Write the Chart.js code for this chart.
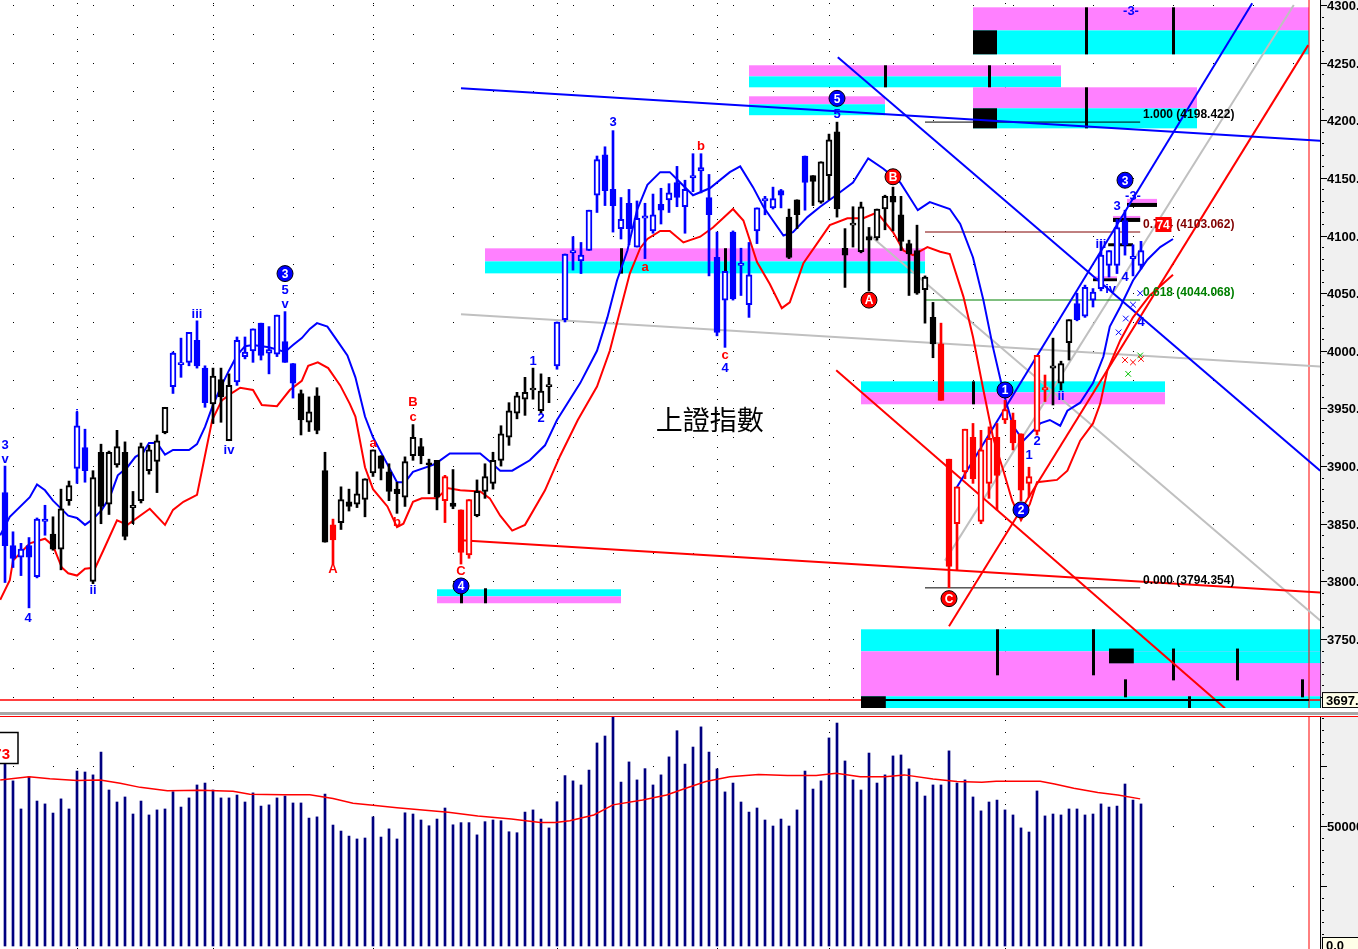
<!DOCTYPE html>
<html lang="zh-Hant">
<head>
<meta charset="UTF-8">
<title>上證指數</title>
<style>
  html, body { margin: 0; padding: 0; background: #fff; }
  body { position: relative; width: 1358px; height: 949px; overflow: hidden; }
  canvas { position: absolute; left: 0; }
  #priceChart { top: 0; }
  #volChart { top: 717px; }
  .sep { position: absolute; left: 0; width: 1358px; }
</style>
</head>
<body>
<canvas id="priceChart" width="1358" height="708"></canvas>
<div class="sep" style="top:712px;height:3px;background:#a8a8a8"></div>
<div class="sep" style="top:716px;height:1px;background:#ff0000"></div>
<canvas id="volChart" width="1358" height="232"></canvas>
<script src="https://cdn.jsdelivr.net/npm/chart.js@4.4.1/dist/chart.umd.min.js"></script>
<script>
// daily bars, index 0 = first bar on the left
const openP = [3877,3831,3821,3831,3804,3852,3841,3828,3870,3898, 3916,3800,3912,3867,3901,3912,3864,3870,3896,3904,
  3929,3969,3988,3990,4009,3985,3954,3975,3922,3973, 3995,4000,4024,3998,3997,4008,3989,3963,3938,3961,
  3896,3849,3851,3869,3867,3871,3894,3909,3895,3880, 3873,3909,3917,3902,3905,3870,3868,3862,3823,3857,
  3878,3885,3905,3925,3946,3958,3966,3948,3969,3987, 4027,4085,4078,4087,4135,4170,4140,4106,4128,4090,
  4115,4104,4127,4131,4146,4125,4150,4156,4133,4081, 4044,4103,4074,4040,4104,4130,4124,4139,4116,4131,
  4169,4152,4129,4152,4190,4089,4109,4086,4099,4098, 4123,4134,4118,4093,4087,4053,4029,4006,3906,3850,
  3895,3925,3852,3885,3925,3940,3940,3928,3885,3930, 3966,3985,3972,4007,4041,4030,4044,4054,4074,4074,
  4113,4080,4074];
const highP = [3900,3843,3833,3838,3855,3866,3856,3880,3887,3947, 3932,3896,3919,3913,3931,3921,3878,3920,3918,3927,
  3951,3999,4011,4016,4026,3987,3985,3985,3980,4012, 4012,4019,4024,4021,4031,4034,3989,3966,3960,3968,
  3912,3854,3882,3880,3895,3889,3914,3909,3902,3886, 3908,3936,3924,3906,3905,3892,3897,3862,3871,3888,
  3902,3912,3935,3955,3964,3977,3985,3980,3977,4025, 4084,4099,4094,4122,4169,4177,4191,4133,4140,4130,
  4128,4136,4141,4145,4160,4148,4171,4171,4153,4103, 4069,4104,4089,4094,4124,4134,4142,4140,4123,4131,
  4169,4152,4164,4188,4198.4,4106,4125,4129,4107,4123, 4135,4142,4134,4096,4109,4065,4042,4024,3906,3882,
  3932,3937,3931,3934,3937,3957,3946,3928,3899,3996, 3979,4011,3991,4027,4050,4057,4054,4095,4087,4114,
  4122,4092,4095];
const lowP = [3799,3812,3805,3777,3803,3840,3827,3810,3866,3885, 3886,3798,3850,3858,3899,3836,3850,3868,3893,3877,
  3928,3963,3977,3987,3985,3951,3937,3938,3922,3970, 3993,3990,3992,3980,3995,3990,3959,3927,3930,3928,
  3834,3815,3845,3861,3864,3856,3891,3888,3870,3859, 3865,3905,3902,3876,3862,3851,3863,3815,3820,3856,
  3872,3880,3900,3918,3941,3944,3958,3946,3955,3984, 4025,4070,4067,4087,4120,4126,4103,4097,4092,4090,
  4080,4102,4110,4120,4125,4102,4138,4137,4065,4013, 4003,4044,4048,4029,4093,4118,4123,4124,4080,4106,
  4122,4126,4128,4131,4116,4055,4090,4085,4052,4096, 4105,4104,4087,4048,4049,4024,3994,3957,3794.4,3810,
  3889,3885,3850,3872,3862,3937,3914,3870,3873,3927, 3956,3953,3966,3992,4026,4029,4038,4052,4064,4067,
  4083,4065,4071];
const closeP = [3831,3820,3828,3821,3854,3854,3828,3863,3883,3935, 3896,3890,3865,3912,3917,3839,3866,3917,3914,3922,
  3951,3998,3989,4016,3987,3955,3978,3960,3970,4009, 3999,4019,3996,4001,4031,3990,3972,3940,3947,3931,
  3834,3836,3871,3865,3876,3889,3914,3898,3878,3876, 3904,3925,3909,3901,3873,3891,3865,3825,3871,3878,
  3891,3905,3928,3948,3961,3964,3967,3965,3970,4025, 4084,4087,4083,4122,4166,4139,4126,4114,4106,4115,
  4117,4118,4122,4137,4133,4140,4152,4159,4118,4016, 4069,4045,4076,4066,4124,4132,4132,4135,4081,4118,
  4146,4147,4164,4183,4123,4083,4110,4125,4096,4123, 4134,4129,4095,4084,4050,4064,4006,3957,3813,3882,
  3932,3889,3914,3924,3892,3949,3920,3879,3891,3996, 3968,3987,3989,4027,4027,4055,4051,4083,4087,4107,
  4092,4082,4087];
// b = blue, k = black, r = red bar colouring
const candleTone = ('bbbbbbkkkb' + 'bkkkkkkkkk' + 'kbbbbbkkkb' + 'bbbbbbbkkk' + 'krkkkkkkkk' +
  'kkkkkrkrrk' + 'kkkkkkkkkb' + 'bbbbbbbbbb' + 'bbbbbbbbbb' + 'bbbbbbbbkk' + 'bkkkkkkkkk' +
  'kkkkkkkrrr' + 'rrrrrrrrrr' + 'rkkkbbbbbb' + 'bbb').split('');
const volume = [76100,68800,57100,70500,60400,59200,55400,61300,57100,72900, 72500,71300,80800,65000,60000,62100,55000,60400,54600,56700,
  57100,64300,57900,61700,67100,67900,65000,61700,61700,62900, 60000,63800,58300,58800,61700,62500,59600,59600,53300,53800,
  63300,50400,47900,45800,44600,45000,53800,45400,48800,44600, 55500,55000,52500,50100,52900,57500,50500,51400,51400,46300,
  51800,52500,52200,47600,47200,55800,56700,52900,49200,60100, 71000,68800,67100,73300,84600,87500,95500,68300,76700,69200,
  73900,67100,71300,78800,89700,75800,82900,91300,80800,73800, 64200,67900,60000,55800,57500,52500,50000,52900,50000,56700,
  72900,65400,68800,86700,92900,77100,69200,65000,80400,67900, 71300,79200,79600,73800,68300,62500,67100,67100,81300,67900,
  69200,62100,56300,60000,60800,56700,54600,49200,47500,64600, 54200,55000,54600,57100,57100,54600,55000,59200,57900,58300,
  67500,60800,59200];

// envelope lines [bar, price]
const upperBand = [[-0.6,3840],[0.6,3856],[3.1,3873],[4,3884],[5,3879],[6,3870],[7.9,3857],[9,3855],[10,3849],[11,3854],
  [12.1,3862],[13.1,3873],[14.1,3892],[15.3,3899],[16.3,3908],[17.3,3912],[18,3920],[19,3920],[20,3910],[21,3914],[23,3914],
  [24,3919],[25,3934],[26,3953],[27,3969],[28,3983],[29,3996],[30,4004],[31,4005],[33,4003],[35,3999],[36,4005],[37.1,4011],
  [38.1,4019],[39,4024],[40.3,4021],[41.5,4009],[42.8,3996],[43.8,3977],[45,3943],[46,3925],[47.3,3908],[49,3886],[50,3886],
  [51,3895],[53.5,3901],[54.4,3905],[55.6,3911],[59.4,3911],[60.6,3904],[61.9,3896],[63.4,3896],[65.6,3905],[67.5,3918],
  [69,3940],[71.9,3972],[74,4000],[75.3,4029],[76.5,4061],[77.8,4087],[79,4122],[80.3,4144],[81.9,4155],[83.1,4155],
  [84.4,4146],[86,4135],[88.1,4141],[90.6,4155],[91.9,4160],[93.5,4142],[94.8,4125],[97.3,4100],[98.5,4103],[100.3,4116],
  [101.9,4125],[103.5,4133],[106,4146],[107.9,4167],[109.8,4158],[111.9,4146],[114.1,4122],[115.6,4129],[118.1,4123],
  [119.4,4110],[121,4081],[122.3,4044],[123.5,4003],[124.8,3964],[126,3935],[127.3,3922],[129.4,3937],[130.6,3940],
  [131.9,3935],[132.8,3948],[134.4,3955],[136,3972],[137.3,3995],[138.1,4021],[139.4,4038],[141,4061],[142.8,4079],
  [144.4,4090],[146,4097]];
const lowerBand = [[-0.6,3784],[0.6,3801],[1,3818],[3.1,3833],[5,3837],[6,3831],[7.1,3812],[7.9,3807],[9,3805],[10,3811],
  [11.3,3812],[12.3,3827],[14,3853],[15.3,3849],[18.1,3863],[20,3849],[21,3862],[22.3,3869],[24,3875],[25.9,3940],[27.1,3957],
  [28.5,3964],[29.4,3968],[31,3966],[32.1,3953],[34,3952],[35.6,3966],[37.1,3974],[37.9,3987],[39.1,3990],[40.4,3985],
  [41.9,3970],[43.1,3954],[43.8,3943],[45,3899],[46,3880],[47.8,3865],[49,3847],[49.8,3850],[51,3869],[52.1,3872],[54,3872],
  [55.3,3881],[56.9,3879],[59.4,3878],[60.6,3872],[61.9,3857],[63.4,3844],[65,3849],[67.5,3879],[69.4,3909],[71.6,3940],
  [74,3969],[75.6,4000],[76.9,4035],[78.1,4067],[79.4,4089],[80.3,4097],[81.9,4104],[83.1,4104],[84.8,4094],[86.9,4099],
  [88.5,4107],[91,4123],[92.3,4113],[94,4077],[95.6,4058],[97.1,4037],[98.1,4042],[99.8,4076],[101.5,4093],[103.1,4109],
  [105.3,4115],[107.3,4115],[109,4120],[111,4103],[112.3,4087],[113.5,4083],[115.3,4090],[116.9,4086],[118.1,4084],
  [119.8,4047],[121,4012],[122.3,3966],[123.5,3925],[124.8,3896],[125.9,3870],[127,3853],[128.1,3867],[129,3886],
  [131.5,3888],[132.8,3896],[134.4,3922],[136,3937],[136.9,3954],[137.8,3983],[139.4,4009],[141,4029],[143.1,4048],[146,4066]];
const volumeAvg = [[-0.6,69200],[3,70500],[5.6,69700],[9,69000],[11.9,69200],[14.4,67800],[16.9,66100],[20.3,64700],
  [24.4,64900],[28.5,64500],[30.6,63200],[34.8,63000],[38.1,63000],[41,61500],[43.5,59500],[46,58600],[49,57600],
  [55.4,55700],[59.1,54200],[63.3,52900],[66.9,51500],[68.8,51500],[70.6,52200],[73.6,54600],[76,58800],[79.7,60800],
  [82.7,62900],[85.1,65700],[87.6,68500],[90.6,70500],[94.2,71500],[97.8,71000],[101.4,71000],[103.9,72000],[106.9,70500],
  [110,70500],[112.4,71300],[116,69600],[119,68500],[122.1,68200],[123.9,68600],[129.4,68600],[131.2,67500],[133.6,65700],
  [136.6,64000],[139.1,62900],[141.9,61300]];

// trend lines, two end points each
const blueLines = [[[57,4227.7],[164.4,4182.3]], [[104.1,4254.6],[164.4,3896]], [[118.75,3879],[155.9,4301.5]]];
const redLines = [[[57,3835.6],[164.4,3790.3]], [[103.9,3983.1],[152.5,3689.9]], [[118,3761],[162.9,4265.2]]];
const grayLines = [[[57,4031.7],[164.4,3986.4]], [[108.1,4100.2],[164.4,3766]], [[117.5,3818],[161.1,4300]]];
const fibLevels = [4198.422, 4103.062, 4044.068, 3794.354];
const fibNames = ['1.000 (4198.422)', '0.764 (4103.062)', '0.618 (4044.068)', '0.000 (3794.354)'];
const monthStarts = [9, 26, 46, 69, 89, 103, 125];
const priceLabels = [3750, 3800, 3850, 3900, 3950, 4000, 4050, 4100, 4150, 4200, 4250, 4300];
const volumeLabels = [50000];
const lastPrice = 3697;

// wave count marks: bar, price, text, colour, circled
const waveLabels = [
  [0,3918,'3','b'],[0,3906,'v','b'],[2.9,3768,'4','b'],[9,3945,'i','b'],[11,3792,'ii','b'],[24,4032,'iii','b'],
  [28,3914,'iv','b'],[35,4067,'3','b',1],[35,4052,'5','b'],[35,4040,'v','b'],[66,3991,'1','b'],[67,3941,'2','b'],
  [76,4198,'3','b'],[90,3996,'c','r'],[90,3985,'4','b'],[104,4219,'5','b',1],[104,4205,'5','b'],
  [125,3966,'1','b',1],[127,3862,'2','b',1],[128,3909,'1','b'],[129,3921,'2','b'],[132,3960,'ii','b'],
  [137,4092,'iii','b'],[138.2,4053,'iv','b'],[140,4064,'4','b'],[142,4025,'4','b'],[140,4148,'3','b',1],
  [139,4125,'3','b'],[141,4134,'-3-','b'],[140.75,4294,'-3-','b'],
  [41,3810,'A','r'],[46,3920,'a','r'],[49,3851,'b','r'],[51,3955,'B','r'],[51,3942,'c','r'],[57,3809,'C','r'],
  [57,3796,'4','b',1],[80,4072,'a','r'],[87,4177,'b','r'],[108,4044,'A','r',1],[111,4151,'B','r',1],[118,3785,'C','r',1]
];

const tone = { b: '#0000ff', k: '#000000', r: '#ff0000' };
const MAG = '#ff80ff', CYAN = '#00ffff';
// support / resistance zones: from bar, to bar, bands [top, bottom, colour], optional black start box
const zones = [
  { from: 54, to: 77, bands: [[3793.1,3787,CYAN],[3787,3781,MAG]] },
  { from: 60, to: 115, bands: [[4088.9,4077.6,MAG],[4077.6,4067.2,CYAN]] },
  { from: 93, to: 132, bands: [[4247.7,4238.1,MAG],[4238.1,4228.6,CYAN]] },
  { from: 93, to: 110, bands: [[4220.8,4213.9,MAG],[4213.9,4204.4,CYAN]] },
  { from: 121, to: 163, bands: [[4298,4278,MAG],[4278,4257.2,CYAN]], box: [121,124,4278,4257.2] },
  { from: 121, to: 149, bands: [[4228.6,4210.4,MAG],[4210.4,4193,CYAN]], box: [121,124,4210.4,4193] },
  { from: 107, to: 145, bands: [[3973.5,3964,CYAN],[3964,3953.6,MAG]] },
  { from: 107, to: 164.4, bands: [[3758.4,3739.3,CYAN],[3739.3,3700.3,MAG]] },
  { from: 138, to: 164.4, bands: [[3739.3,3728.9,CYAN],[3728.9,3700.3,MAG]], box: [138,141.1,3741.7,3728.9] },
  { from: 107, to: 164.4, bands: [[3700.3,3689.9,CYAN]], box: [107,110.1,3700.3,3689.9] },
  { from: 137.9, to: 141, bands: [[4093.3,4090.7,'#000']] },
  { from: 136, to: 139, bands: [[4064.6,4062.9,MAG],[4062.9,4060.4,'#000']] },
  { from: 138.5, to: 141.9, bands: [[4117,4115.3,MAG],[4115.3,4111.8,'#000']] },
  { from: 140.25, to: 144, bands: [[4131.8,4128.3,MAG],[4128.3,4124.8,'#000']] }
];
const zoneTicks = [[57,3794,3781],[60,3794,3781],[77,4089,4067],[90,4089,4067],[110,4247.7,4228.6],[123,4247.7,4228.6],
  [135.1,4298,4257.2],[146,4298,4257.2],[135.1,4228.6,4193],[121,3973.5,3953.6],[124,3758.4,3718.5],[136,3758.4,3718.5],
  [140,3715,3699.4],[146,3741.7,3714.1],[154,3741.7,3714.1],[162.1,3715,3699.4],[148,3700.3,3688]];

const days = openP.map((_, i) => i);
const candleCol = days.map(i => tone[candleTone[i]]);
const pts = arr => arr.map(([x, y]) => ({ x, y }));
const seg = (pairs, color, width, order) => ({ type: 'line', data: pts(pairs), borderColor: color, borderWidth: width,
  pointRadius: 0, tension: 0, order: order || 4 });

Chart.defaults.font.family = "'Liberation Sans', Arial, sans-serif";
const AXIS_FONT = 'bold 13px "Liberation Sans"';

// dotted grid rows and month columns
function drawFrame(chart, rows) {
  const { ctx, chartArea: a, scales: { x, y } } = chart;
  ctx.save();
  ctx.fillStyle = '#000';
  rows.forEach(v => {
    const py = Math.round(y.getPixelForValue(v));
    if (py < a.top || py >= a.bottom) return;
    for (let px = 13; px < a.right; px += 40) ctx.fillRect(px, py, 1, 1);
  });
  monthStarts.forEach(m => {
    const px = Math.round(x.getPixelForValue(m));
    for (let py = a.top + 3; py < a.bottom; py += 12) ctx.fillRect(px, py, 1, 1);
  });
  ctx.restore();
}
// tick marks and tick labels in the right-hand axis column
function drawAxis(chart, majors, minorStep, labels, fmt) {
  const { ctx, chartArea: a, scales: { y } } = chart;
  ctx.save();
  ctx.fillStyle = '#000';
  for (let v = Math.ceil(y.min / minorStep) * minorStep; v <= y.max; v += minorStep) {
    const py = Math.round(y.getPixelForValue(v));
    if (majors.includes(v)) ctx.fillRect(a.right + 1, py, 6, 1);
    else ctx.fillRect(a.right + 2, py, 2, 1);
  }
  ctx.font = AXIS_FONT;
  ctx.textAlign = 'left';
  ctx.textBaseline = 'middle';
  labels.forEach(v => ctx.fillText(fmt(v), a.right + 7, Math.round(y.getPixelForValue(v)) + 1));
  ctx.restore();
}
function fillAxisColumn(chart) {
  const { ctx, chartArea } = chart;
  ctx.save();
  ctx.fillStyle = '#f0f0f0';
  ctx.fillRect(chartArea.right, 0, chart.width - chartArea.right, chart.height);
  ctx.restore();
}
function labelBox(ctx, x, yc, text) {
  ctx.fillStyle = '#ffffe8';
  ctx.fillRect(x, yc - 8, 40, 16);
  ctx.strokeStyle = '#000';
  ctx.lineWidth = 1;
  ctx.strokeRect(x + 0.5, yc - 7.5, 40, 15);
  ctx.fillStyle = '#000';
  ctx.font = AXIS_FONT;
  ctx.textAlign = 'left';
  ctx.textBaseline = 'middle';
  ctx.fillText(text, x + 4, yc + 1);
}

const priceRows = [];
for (let v = 3700; v <= 4300; v += 25) priceRows.push(v);
const priceMajors = priceRows.filter(v => v % 50 === 0);

const priceDecor = {
  id: 'priceDecor',
  beforeDraw: fillAxisColumn,
  beforeDatasetsDraw(chart) {
    drawFrame(chart, priceRows);
    const { ctx, scales: { x, y } } = chart;
    ctx.save();
    zones.forEach(z => {
      const x0 = x.getPixelForValue(z.from), x1 = x.getPixelForValue(z.to);
      z.bands.forEach(([hi, lo, col]) => {
        const y0 = y.getPixelForValue(hi), y1 = y.getPixelForValue(lo);
        ctx.fillStyle = col;
        ctx.fillRect(x0, y0, x1 - x0, y1 - y0);
      });
      if (z.box) {
        const [a, b, hi, lo] = z.box;
        ctx.fillStyle = '#000';
        ctx.fillRect(x.getPixelForValue(a), y.getPixelForValue(hi), x.getPixelForValue(b) - x.getPixelForValue(a),
          y.getPixelForValue(lo) - y.getPixelForValue(hi));
      }
    });
    ctx.fillStyle = '#000';
    zoneTicks.forEach(([i, hi, lo]) => {
      const px = Math.round(x.getPixelForValue(i));
      ctx.fillRect(px - 1, y.getPixelForValue(hi), 3, y.getPixelForValue(lo) - y.getPixelForValue(hi));
    });
    ctx.restore();
  },
  afterDatasetsDraw(chart) {
    const { ctx, scales: { x, y } } = chart;
    ctx.save();
    // last price line crosses the lower zone in black
    ctx.fillStyle = '#000';
    ctx.fillRect(x.getPixelForValue(107), Math.round(y.getPixelForValue(lastPrice)) - 1,
      x.getPixelForValue(163) - x.getPixelForValue(107), 2);
    ctx.textAlign = 'center';
    ctx.textBaseline = 'middle';
    waveLabels.forEach(([i, p, t, c, circ]) => {
      const px = x.getPixelForValue(i), py = y.getPixelForValue(p);
      if (circ) {
        ctx.beginPath();
        ctx.arc(px, py, 8, 0, Math.PI * 2);
        ctx.fillStyle = tone[c];
        ctx.fill();
        ctx.strokeStyle = '#000';
        ctx.lineWidth = 1;
        ctx.stroke();
        ctx.fillStyle = '#fff';
        ctx.font = 'bold 12px "Liberation Sans"';
        ctx.fillText(t, px, py + 1);
      } else {
        ctx.fillStyle = tone[c];
        ctx.font = 'bold 13px "Liberation Sans"';
        ctx.fillText(t, px, py);
      }
    });
    // fibonacci level captions
    const fibCols = ['#000000', '#800000', '#008000', '#000000'];
    ctx.textAlign = 'left';
    ctx.textBaseline = 'bottom';
    ctx.font = 'bold 12px "Liberation Sans"';
    fibLevels.forEach((v, k) => {
      ctx.fillStyle = fibCols[k];
      ctx.fillText(fibNames[k], x.getPixelForValue(142.25), y.getPixelForValue(v) - 1);
    });
    const bx = x.getPixelForValue(143.8), by = y.getPixelForValue(4103.062);
    ctx.fillStyle = '#ff0000';
    ctx.fillRect(bx, by - 15, 16, 15);
    ctx.fillStyle = '#fff';
    ctx.fillText('74', bx + 1, by);
    // chart title
    ctx.fillStyle = '#000';
    ctx.font = '27px "Noto Sans CJK TC"';
    ctx.textAlign = 'center';
    ctx.textBaseline = 'middle';
    ctx.fillText('上證指數', x.getPixelForValue(88.1), y.getPixelForValue(3940));
    ctx.restore();
  },
  afterDraw(chart) {
    drawAxis(chart, priceMajors, 10, priceLabels, v => v + '.00');
    const { ctx, chartArea, scales: { y } } = chart;
    ctx.save();
    labelBox(ctx, chartArea.right + 2, y.getPixelForValue(lastPrice), lastPrice + '.00');
    ctx.restore();
  }
};

const volDecor = {
  id: 'volDecor',
  beforeDraw: fillAxisColumn,
  beforeDatasetsDraw(chart) {
    drawFrame(chart, [25000, 50000, 75000]);
  },
  afterDraw(chart) {
    drawAxis(chart, [25000, 50000, 75000], 5000, volumeLabels, v => String(v) + '.00');
    const { ctx, chartArea } = chart;
    ctx.save();
    labelBox(ctx, chartArea.right + 2, chart.height - 4, '0.0');
    // current volume readout box
    ctx.fillStyle = '#fff';
    ctx.fillRect(0, 15, 18, 31);
    ctx.strokeStyle = '#000';
    ctx.lineWidth = 1.5;
    ctx.strokeRect(-1, 15.5, 19, 31);
    ctx.fillStyle = '#ff0000';
    ctx.font = 'bold 15px "Liberation Sans"';
    ctx.textAlign = 'right';
    ctx.textBaseline = 'middle';
    ctx.fillText('73', 10, 38);
    ctx.restore();
  }
};

function xScale() {
  return { type: 'linear', display: false, min: -0.625, max: 164.375, offset: false };
}
function yScale(min, max) {
  return {
    position: 'right', min, max,
    ticks: { display: false },
    grid: { display: false },
    border: { display: true, color: '#000', width: 1 },
    afterFit: s => { s.width = 38; s.paddingTop = 0; s.paddingBottom = 0; }
  };
}
const baseOptions = {
  responsive: false, devicePixelRatio: 1, animation: false, events: [],
  layout: { padding: 0, autoPadding: false },
  plugins: { legend: { display: false }, tooltip: { enabled: false } }
};

new Chart(document.getElementById('priceChart'), {
  type: 'bar',
  data: {
    datasets: [
      { type: 'bar', data: days.map(i => ({ x: i, y: [openP[i], closeP[i]] })),
        backgroundColor: days.map(i => closeP[i] < openP[i] ? candleCol[i] : '#ffffff'),
        borderColor: candleCol, borderWidth: 2, borderSkipped: false, barThickness: 6, minBarLength: 2,
        grouped: false, order: 1 },
      { type: 'bar', data: days.map(i => ({ x: i, y: [lowP[i], highP[i]] })),
        backgroundColor: candleCol, barThickness: 2, grouped: false, order: 2 },
      seg(upperBand, '#0000ff', 2, 3),
      seg(lowerBand, '#ff0000', 2, 3),
      ...grayLines.map(l => seg(l, '#c0c0c0', 2, 6)),
      ...blueLines.map(l => seg(l, '#0000ff', 2, 5)),
      ...redLines.map(l => seg(l, '#ff0000', 2, 5)),
      seg([[115, fibLevels[0]], [141.9, fibLevels[0]]], '#000000', 1, 5),
      seg([[115, fibLevels[1]], [141.9, fibLevels[1]]], '#800000', 1, 5),
      seg([[115, fibLevels[2]], [141.9, fibLevels[2]]], '#008000', 1, 5),
      seg([[115, fibLevels[3]], [141.9, fibLevels[3]]], '#000000', 1, 5),
      seg([[-1, lastPrice], [165, lastPrice]], '#ff0000', 1.5, 7),
      seg([[163, 3680], [163, 4310]], '#ff0000', 1, 7),
      { type: 'line', data: pts([[140, 3992], [141, 3990], [142, 3993]]), showLine: false, pointStyle: 'crossRot',
        pointRadius: 4, borderColor: '#ff0000', borderWidth: 1, order: 0 },
      { type: 'line', data: pts([[140.4, 3980], [141.9, 3996]]), showLine: false, pointStyle: 'crossRot',
        pointRadius: 4, borderColor: '#00c000', borderWidth: 1, order: 0 },
      { type: 'line', data: pts([[139.2, 4016], [140.1, 4028], [141, 4040], [141.9, 4050]]), showLine: false,
        pointStyle: 'crossRot', pointRadius: 4, borderColor: '#0000ff', borderWidth: 1, order: 0 }
    ]
  },
  options: { ...baseOptions, scales: { x: xScale(), y: yScale(3690.13, 4304.34) } },
  plugins: [priceDecor]
});

new Chart(document.getElementById('volChart'), {
  type: 'bar',
  data: {
    datasets: [
      { type: 'bar', data: days.map(i => ({ x: i, y: volume[i] })), backgroundColor: '#000080',
        barThickness: 2, grouped: false, order: 2 },
      seg(volumeAvg, '#ff0000', 1.5, 1),
      seg([[163, -5000], [163, 100000]], '#ff0000', 1, 3)
    ]
  },
  options: { ...baseOptions, scales: { x: xScale(), y: yScale(-1250, 95417) } },
  plugins: [volDecor]
});
</script>
</body>
</html>
